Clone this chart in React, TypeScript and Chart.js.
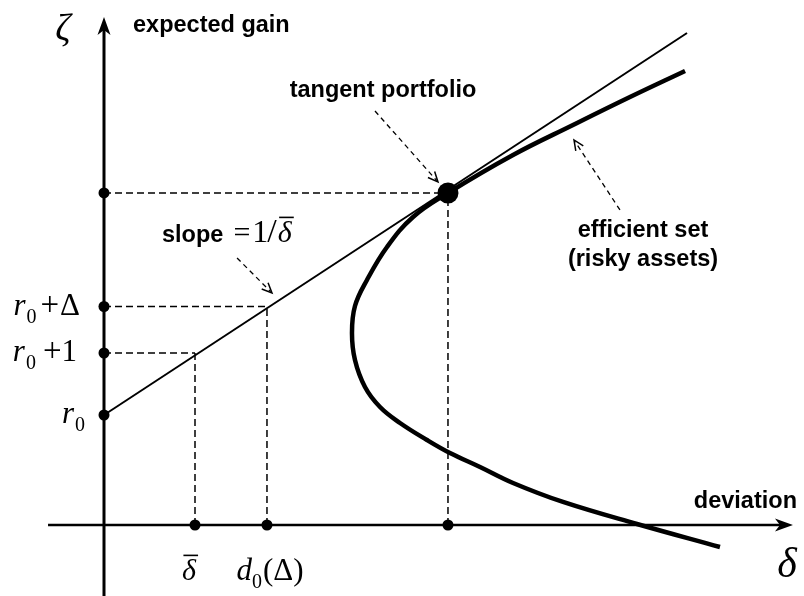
import { useEffect, useRef } from "react";
import { Chart, registerables } from "chart.js";

Chart.register(...registerables);

// ---- data (δ = deviation, ζ = expected gain) ----
// visible range (Chart.js keeps a 10.5px inner margin for the large tangent dot)
const deviationRange = [-1.0275, 7.577];
const gainRange = [-0.976, 8.298];
const xAxisExtent = [-0.615, 7.571];
const yAxisExtent = [-1.3, 8.194];

const riskFree = 1.774; // r0
const deltaBar = 1.0; // δ̄
const gainPlusOne = 2.774; // r0 + 1
const gainPlusDelta = 3.524; // r0 + Δ
const dZeroDelta = 1.791; // d0(Δ)
const tangentDeviation = 3.78;
const tangentGain = 5.355;
const cmlEndDeviation = 6.407;
const cmlEndGain = 7.935;

const frontierDeviation = [6.769, 5.857, 5.044, 4.495, 4.132, 3.802, 3.549, 3.253, 3.033, 2.868, 2.758, 2.725, 2.758, 2.89, 3.11, 3.396, 3.78, 4.495, 5.154, 5.78, 6.385];
const frontierGain = [-0.355, 0.016, 0.371, 0.677, 0.935, 1.161, 1.371, 1.645, 1.903, 2.226, 2.661, 3.097, 3.532, 3.952, 4.484, 4.968, 5.355, 5.968, 6.452, 6.903, 7.323];

// dashed callout arrows: [fromX, fromY, toX, toY] in data units
const calloutArrows = [
  [2.978, 6.677, 3.67, 5.532],
  [5.67, 5.081, 5.165, 6.21],
  [1.462, 4.306, 1.846, 3.742],
];

const SERIF = '"Liberation Serif", "DejaVu Serif", serif';
const SANS = '"Liberation Sans", Arial, sans-serif';

type Run = { t: string; font: string; dx?: number; dy?: number; bar?: boolean };

function drawRuns(ctx: CanvasRenderingContext2D, runs: Run[], x: number, y: number, align: "left" | "center" | "right" = "left") {
  let total = 0;
  const ws = runs.map((r) => {
    ctx.font = r.font;
    const w = ctx.measureText(r.t).width;
    total += (r.dx || 0) + w;
    return w;
  });
  let cx = align === "left" ? x : align === "center" ? x - total / 2 : x - total;
  runs.forEach((r, i) => {
    cx += r.dx || 0;
    ctx.font = r.font;
    ctx.fillText(r.t, cx, y + (r.dy || 0));
    if (r.bar) {
      const size = parseFloat(r.font.replace(/^[a-z ]*/i, ""));
      ctx.save();
      ctx.lineWidth = 1.6;
      ctx.beginPath();
      const by = y + (r.dy || 0) - size * 0.82;
      ctx.moveTo(cx + ws[i] * 0.1, by);
      ctx.lineTo(cx + ws[i] * 1.15, by);
      ctx.stroke();
      ctx.restore();
    }
    cx += ws[i];
  });
}

const overlay = {
  id: "overlay",
  afterDraw(chart: any) {
    const ctx: CanvasRenderingContext2D = chart.ctx;
    const xs = chart.scales.x;
    const ys = chart.scales.y;
    const px = (v: number) => xs.getPixelForValue(v);
    const py = (v: number) => ys.getPixelForValue(v);
    ctx.save();
    ctx.fillStyle = "#000";
    ctx.strokeStyle = "#000";

    // axis arrowheads
    const head = (tx: number, ty: number, dirx: number, diry: number) => {
      const L = 18, W = 6.5, N = 5;
      const nx = -diry, ny = dirx;
      ctx.beginPath();
      ctx.moveTo(tx, ty);
      ctx.lineTo(tx - dirx * L + nx * W, ty - diry * L + ny * W);
      ctx.lineTo(tx - dirx * (L - N), ty - diry * (L - N));
      ctx.lineTo(tx - dirx * L - nx * W, ty - diry * L - ny * W);
      ctx.closePath();
      ctx.fill();
    };
    head(px(0), py(yAxisExtent[1]), 0, -1);
    head(px(xAxisExtent[1]), py(0), 1, 0);

    // dashed callout arrows
    calloutArrows.forEach(([x1, y1, x2, y2]) => {
      const ax = px(x1), ay = py(y1), bx = px(x2), by = py(y2);
      const ang = Math.atan2(by - ay, bx - ax);
      ctx.save();
      ctx.lineWidth = 1.3;
      ctx.setLineDash([5, 4]);
      ctx.beginPath();
      ctx.moveTo(ax, ay);
      ctx.lineTo(bx - Math.cos(ang) * 2, by - Math.sin(ang) * 2);
      ctx.stroke();
      ctx.setLineDash([]);
      ctx.lineWidth = 1.5;
      ctx.beginPath();
      const hl = 11, ha = 0.42;
      ctx.moveTo(bx - hl * Math.cos(ang - ha), by - hl * Math.sin(ang - ha));
      ctx.lineTo(bx, by);
      ctx.lineTo(bx - hl * Math.cos(ang + ha), by - hl * Math.sin(ang + ha));
      ctx.stroke();
      ctx.restore();
    });

    ctx.textBaseline = "alphabetic";
    ctx.textAlign = "left";
    const bold = `bold 23.5px ${SANS}`;
    // axis titles
    drawRuns(ctx, [{ t: "ζ", font: `italic 38px ${SERIF}` }], 63, 40, "center");
    drawRuns(ctx, [{ t: "expected gain", font: bold }], 133, 32);
    drawRuns(ctx, [{ t: "deviation", font: bold }], 797, 508, "right");
    drawRuns(ctx, [{ t: "δ", font: `italic 42px ${SERIF}` }], 787, 577, "center");
    drawRuns(ctx, [{ t: "tangent portfolio", font: bold }], 383, 97, "center");
    drawRuns(ctx, [{ t: "efficient set", font: bold }], 643, 237, "center");
    drawRuns(ctx, [{ t: "(risky assets)", font: bold }], 643, 266, "center");

    // slope label
    drawRuns(ctx, [
      { t: "slope", font: bold },
      { t: "=", font: `30px ${SERIF}`, dx: 10 },
      { t: "1", font: `32px ${SERIF}`, dx: 2 },
      { t: "/", font: `34px ${SERIF}`, dx: -1 },
      { t: "δ", font: `italic 30px ${SERIF}`, dx: 1, bar: true },
    ], 162, 242);

    // y-axis labels
    const it = `italic 31px ${SERIF}`;
    const up = `31px ${SERIF}`;
    const plus = `33px ${SERIF}`;
    const sub = `20px ${SERIF}`;
    drawRuns(ctx, [
      { t: "r", font: it },
      { t: "0", font: sub, dx: 1, dy: 8 },
      { t: "+", font: plus, dx: 4 },
      { t: "Δ", font: up, dx: 1 },
    ], px(0) - 24, py(gainPlusDelta) + 9, "right");
    drawRuns(ctx, [
      { t: "r", font: it },
      { t: "0", font: sub, dx: 1, dy: 8 },
      { t: "+", font: plus, dx: 7 },
      { t: "1", font: up, dx: 0 },
    ], px(0) - 27, py(gainPlusOne) + 8, "right");
    drawRuns(ctx, [
      { t: "r", font: it },
      { t: "0", font: sub, dx: 1, dy: 8 },
    ], px(0) - 19, py(riskFree) + 8, "right");

    // x-axis labels
    drawRuns(ctx, [{ t: "δ", font: `italic 30px ${SERIF}`, bar: true }], px(deltaBar) - 6, py(0) + 55, "center");
    drawRuns(ctx, [
      { t: "d", font: it },
      { t: "0", font: sub, dx: 0, dy: 8 },
      { t: "(Δ)", font: up, dx: 1 },
    ], px(dZeroDelta) + 3, py(0) + 55, "center");

    ctx.restore();
  },
};

function seg(x1: number, y1: number, x2: number, y2: number) {
  return [{ x: x1, y: y1 }, { x: x2, y: y2 }];
}

export default function App() {
  const ref = useRef<HTMLCanvasElement>(null);
  useEffect(() => {
    document.body.style.margin = "0";
    const line = (data: any[], width: number, order: number, dash: number[] = []) => ({
      data,
      showLine: true,
      borderColor: "#000",
      backgroundColor: "#000",
      borderWidth: width,
      borderDash: dash,
      pointRadius: 0,
      pointHoverRadius: 0,
      tension: 0,
      order,
      clip: false as any,
    });
    const dashes = [
      seg(0, tangentGain, tangentDeviation, tangentGain),
      seg(tangentDeviation, 0, tangentDeviation, tangentGain),
      seg(0, gainPlusDelta, dZeroDelta, gainPlusDelta),
      seg(dZeroDelta, 0, dZeroDelta, gainPlusDelta),
      seg(0, gainPlusOne, deltaBar, gainPlusOne),
      seg(deltaBar, 0, deltaBar, gainPlusOne),
    ];
    const datasets: any[] = [
      {
        data: [
          { x: 0, y: tangentGain },
          { x: 0, y: gainPlusDelta },
          { x: 0, y: gainPlusOne },
          { x: 0, y: riskFree },
          { x: deltaBar, y: 0 },
          { x: dZeroDelta, y: 0 },
          { x: tangentDeviation, y: 0 },
        ],
        pointRadius: 5.5,
        pointHoverRadius: 5.5,
        pointBorderWidth: 0,
        backgroundColor: "#000",
        borderColor: "#000",
        showLine: false,
        order: 0,
      },
      {
        data: [{ x: tangentDeviation, y: tangentGain }],
        pointRadius: 10.5,
        pointHoverRadius: 10.5,
        pointBorderWidth: 0,
        backgroundColor: "#000",
        borderColor: "#000",
        showLine: false,
        order: 0,
      },
      line(seg(0, riskFree, cmlEndDeviation, cmlEndGain), 2, 1),
      { ...line(frontierDeviation.map((x, i) => ({ x, y: frontierGain[i] })), 4.5, 2), tension: 0.4 },
      ...dashes.map((d) => line(d, 1.5, 3, [7, 4])),
      line(seg(xAxisExtent[0], 0, xAxisExtent[1] - 10 / 91, 0), 2.7, 4),
      line(seg(0, yAxisExtent[0], 0, yAxisExtent[1] - 10 / 62), 3, 4),
    ];
    const chart = new Chart(ref.current!, {
      type: "scatter",
      data: { datasets },
      options: {
        animation: false,
        responsive: false,
        devicePixelRatio: 1,
        events: [],
        layout: { padding: 0 },
        plugins: { legend: { display: false }, tooltip: { enabled: false } },
        scales: {
          x: { type: "linear", min: deviationRange[0], max: deviationRange[1], display: false },
          y: { type: "linear", min: gainRange[0], max: gainRange[1], display: false },
        },
      },
      plugins: [overlay],
    });
    return () => chart.destroy();
  }, []);
  return <canvas ref={ref} width={804} height={596} style={{ display: "block" }} />;
}
